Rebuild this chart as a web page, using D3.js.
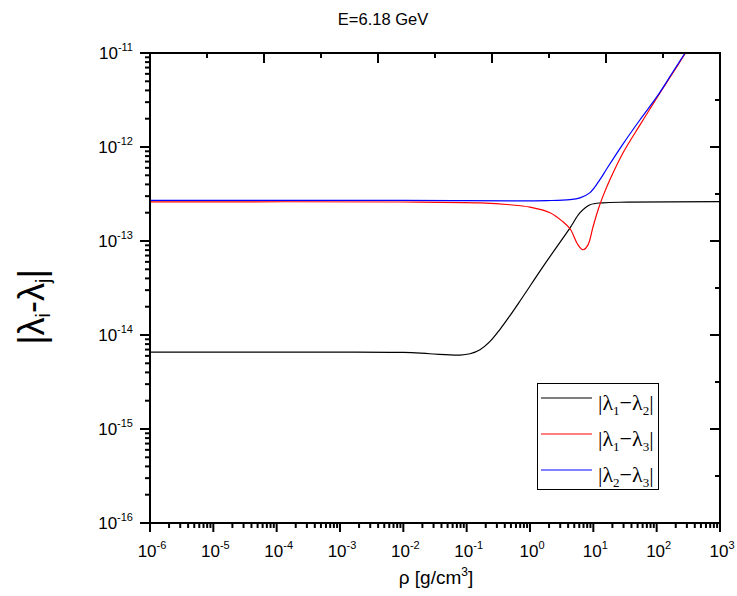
<!DOCTYPE html>
<html>
<head>
<meta charset="utf-8">
<script src="https://cdn.jsdelivr.net/npm/d3@7/dist/d3.min.js"></script>
<style>
  html, body { margin: 0; padding: 0; background: #fff; }
  svg { display: block; }
  text { font-family: "Liberation Sans", Arial, sans-serif; fill: #000; }
</style>
</head>
<body>
<svg id="chart" width="737" height="596"></svg>
<script>
// Eigenvalue differences |λi − λj| versus matter density ρ, at E = 6.18 GeV
const titleText = "E=6.18 GeV";

// [ρ (g/cm³), |λ1−λ2|]
const lambda12 = [
  [1e-6, 6.59e-15], [1e-4, 6.56e-15], [1e-2, 6.53e-15], [0.026, 6.32e-15],
  [0.0785, 6.12e-15], [0.113, 6.32e-15], [0.1625, 6.98e-15], [0.234, 8.55e-15],
  [0.336, 1.15e-14], [0.48, 1.6e-14], [0.695, 2.3e-14], [1.73, 5.74e-14],
  [4.29, 1.38e-13], [6.17, 2.0e-13], [8.87, 2.43e-13], [14.2, 2.55e-13],
  [34, 2.59e-13], [1000, 2.62e-13]
];

// [ρ (g/cm³), |λ1−λ3|]
const lambda13 = [
  [1e-6, 2.61e-13], [1e-2, 2.60e-13], [0.164, 2.54e-13], [0.483, 2.43e-13],
  [1.0, 2.29e-13], [2.07, 2.0e-13], [3.32, 1.6e-13], [4.29, 1.35e-13],
  [5.73, 9.1e-14], [6.87, 8.07e-14], [8.24, 9.1e-14], [9.9, 1.42e-13],
  [11.9, 2.15e-13], [14.2, 3.0e-13], [18.4, 4.54e-13], [29.5, 8.7e-13],
  [54.6, 1.72e-12], [101, 3.34e-12], [181, 6.17e-12], [285, 1.0e-11]
];

// [ρ (g/cm³), |λ2−λ3|]
const lambda23 = [
  [1e-6, 2.70e-13], [1e-2, 2.70e-13], [1.86, 2.69e-13], [4.29, 2.75e-13],
  [6.17, 2.88e-13], [8.87, 3.27e-13], [12.7, 4.49e-13], [16.4, 5.9e-13],
  [29.5, 1.08e-12], [54.6, 1.95e-12], [101, 3.43e-12], [181, 6.31e-12],
  [281, 1.0e-11]
];

const xExponents = [-6, -5, -4, -3, -2, -1, 0, 1, 2, 3];
const yExponents = [-16, -15, -14, -13, -12, -11];

const seriesList = [
  { sub: ["1", "2"], data: lambda12, color: "#000000" },
  { sub: ["1", "3"], data: lambda13, color: "#ff0000" },
  { sub: ["2", "3"], data: lambda23, color: "#0000ff" }
];

const svg = d3.select("#chart");
const W = 737, H = 596;
const margin = { left: 150, right: 17, top: 53, bottom: 73 };
const x0 = margin.left, x1 = W - margin.right;
const y0 = margin.top, y1 = H - margin.bottom;

const x = d3.scaleLog().domain([1e-6, 1e3]).range([x0, x1]);
const y = d3.scaleLog().domain([1e-16, 1e-11]).range([y1, y0]);

// minor tick values (2..9 in each decade)
function minorTicks(lo, hi) {
  const out = [];
  for (let e = lo; e < hi; e++) {
    for (let m = 2; m <= 9; m++) out.push(m * Math.pow(10, e));
  }
  return out;
}

// clip region for curves
svg.append("defs").append("clipPath").attr("id", "plotClip")
  .append("rect").attr("x", x0).attr("y", y0).attr("width", x1 - x0).attr("height", y1 - y0);

// curves
const line = d3.line()
  .x(d => x(d[0]))
  .y(d => y(d[1]))
  .curve(d3.curveCatmullRom.alpha(0.5));

const curves = svg.append("g").attr("clip-path", "url(#plotClip)");
seriesList.forEach(s => {
  curves.append("path")
    .datum(s.data)
    .attr("d", line)
    .attr("fill", "none")
    .attr("stroke", s.color)
    .attr("stroke-width", 1.2);
});

// axes
const axisStroke = 2;
const gAx = svg.append("g").attr("stroke", "#000").attr("stroke-width", axisStroke);

// bottom axis: decades + minor ticks, outward
xExponents.forEach(e => {
  const px = x(Math.pow(10, e));
  gAx.append("line").attr("x1", px).attr("x2", px).attr("y1", y1).attr("y2", y1 + 9);
});
minorTicks(-6, 3).forEach(v => {
  const px = x(v);
  gAx.append("line").attr("x1", px).attr("x2", px).attr("y1", y1).attr("y2", y1 + 5);
});

// left axis: decades + minor ticks, outward
yExponents.forEach(e => {
  const py = y(Math.pow(10, e));
  gAx.append("line").attr("x1", x0 - 10).attr("x2", x0).attr("y1", py).attr("y2", py);
});
minorTicks(-16, -11).forEach(v => {
  const py = y(v);
  gAx.append("line").attr("x1", x0 - 5).attr("x2", x0).attr("y1", py).attr("y2", py);
});

// top and right frame axes: ten equal divisions, inward ticks
const xFrame = d3.scaleLinear().domain([0, 10]).range([x0, x1]);
const yFrame = d3.scaleLinear().domain([0, 10]).range([y1, y0]);
d3.range(1, 10).forEach(i => {
  const len = i % 2 === 0 ? 10 : 5;
  const px = xFrame(i);
  gAx.append("line").attr("x1", px).attr("x2", px).attr("y1", y0).attr("y2", y0 + len);
  const py = yFrame(i);
  gAx.append("line").attr("x1", x1 - len).attr("x2", x1).attr("y1", py).attr("y2", py);
});

// frame
gAx.append("rect")
  .attr("x", x0).attr("y", y0).attr("width", x1 - x0).attr("height", y1 - y0)
  .attr("fill", "none");

// tick labels
const labelSize = 17, supSize = 11;
xExponents.forEach(e => {
  const t = svg.append("text")
    .attr("x", x(Math.pow(10, e)) + 2)
    .attr("y", y1 + 34)
    .attr("text-anchor", "middle")
    .style("font-size", labelSize + "px");
  t.append("tspan").text("10");
  t.append("tspan").attr("dy", -8).style("font-size", supSize + "px").text(e);
});
yExponents.forEach(e => {
  const t = svg.append("text")
    .attr("x", x0 - 17)
    .attr("y", y(Math.pow(10, e)) + 6)
    .attr("text-anchor", "end")
    .style("font-size", labelSize + "px");
  t.append("tspan").text("10");
  t.append("tspan").attr("dy", -8).style("font-size", supSize + "px").text(e);
});

// title
svg.append("text")
  .attr("x", 383).attr("y", 25)
  .attr("text-anchor", "middle")
  .style("font-size", "16.5px")
  .text(titleText);

// x axis title
const xt = svg.append("text")
  .attr("x", 436).attr("y", 584)
  .attr("text-anchor", "middle")
  .style("font-size", "19px");
xt.append("tspan").text("ρ [g/cm");
xt.append("tspan").attr("dy", -8).style("font-size", "12px").text("3");
xt.append("tspan").attr("dy", 8).text("]");

// y axis title
const yt = svg.append("text")
  .attr("transform", "translate(44,307) rotate(-90)")
  .attr("text-anchor", "middle")
  .style("font-size", "36px");
yt.append("tspan").text("|λ");
yt.append("tspan").attr("dy", 6).style("font-size", "20px").text("i");
yt.append("tspan").attr("dy", -6).text("-λ");
yt.append("tspan").attr("dy", 6).style("font-size", "20px").text("j");
yt.append("tspan").attr("dy", -6).text("|");

// legend
const lg = svg.append("g");
lg.append("rect")
  .attr("x", 537.5).attr("y", 383.5).attr("width", 121).attr("height", 106)
  .attr("fill", "#fff").attr("stroke", "#000").attr("stroke-width", 1);
seriesList.forEach((s, i) => {
  const ly = 398 + i * 36;
  lg.append("line")
    .attr("x1", 541).attr("x2", 592).attr("y1", ly).attr("y2", ly)
    .attr("stroke", s.color).attr("stroke-width", 1.2);
  const t = lg.append("text")
    .attr("x", 598).attr("y", ly + 12)
    .style("font-family", "'Liberation Serif', 'Times New Roman', serif")
    .style("font-size", "22px");
  t.append("tspan").text("|λ");
  t.append("tspan").attr("dy", 5).style("font-size", "13px").text(s.sub[0]);
  t.append("tspan").attr("dy", -5).text("−λ");
  t.append("tspan").attr("dy", 5).style("font-size", "13px").text(s.sub[1]);
  t.append("tspan").attr("dy", -5).text("|");
});
</script>
</body>
</html>
